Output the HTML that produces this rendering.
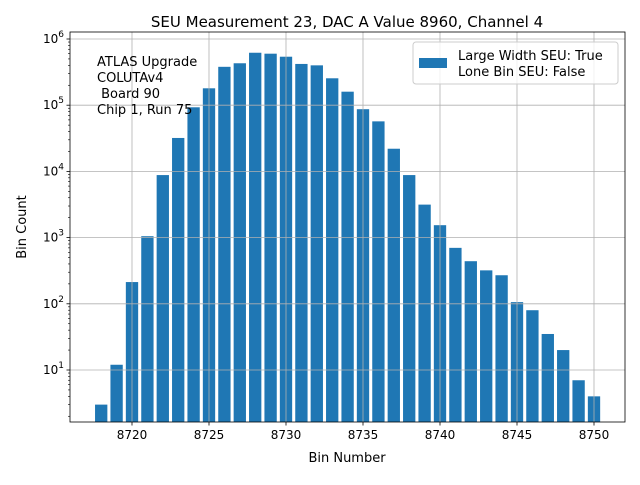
<!DOCTYPE html>
<html><head><meta charset="utf-8"><style>
body{margin:0;background:#fff;font-family:"Liberation Sans","DejaVu Sans",sans-serif}
svg text{font-family:"DejaVu Sans","Liberation Sans",sans-serif}
</style></head><body>
<svg id="c" width="640" height="480" viewBox="0 0 640 480"></svg>
<script>
const bins=[8718,8719,8720,8721,8722,8723,8724,8725,8726,8727,8728,8729,8730,8731,8732,8733,8734,8735,8736,8737,8738,8739,8740,8741,8742,8743,8744,8745,8746,8747,8748,8749,8750];
const counts=[3,12,213,1050,8800,32000,93000,180000,380000,430000,620000,600000,540000,420000,400000,255000,160000,87000,57000,22000,8800,3150,1540,700,440,320,270,106,80,35,20,7,4];
const xTicks=[8720,8725,8730,8735,8740,8745,8750];
const yTicks=[1,2,3,4,5,6];
const L=70,R=625,T=32,B=422;
const xs=v=>132+(v-8720)*15.4;
const ys=v=>370-(Math.log10(v)-1)*66.2;
const svg=document.getElementById('c');
const NS='http://www.w3.org/2000/svg';
function mk(t,a,p){const e=document.createElementNS(NS,t);for(const k in a)e.setAttribute(k,a[k]);(p||svg).appendChild(e);return e;}
let e=mk('text',{x:347,y:27,'text-anchor':'middle','font-size':15});e.textContent='SEU Measurement 23, DAC A Value 8960, Channel 4';


// bars
bins.forEach((b,i)=>{const y=ys(counts[i]);const r=mk('rect',{x:xs(b-0.4),y:y,width:15.4*0.8,height:B-y,fill:'#1f77b4'});

});
// grid + ticks (drawn over bars)
xTicks.forEach(t=>{const x=xs(t);mk('line',{x1:x,x2:x,y1:T,y2:B,stroke:'#b0b0b0','stroke-width':0.8});
mk('line',{x1:x,x2:x,y1:B,y2:B+3.5,stroke:'#000','stroke-width':0.8});
const tx=mk('text',{x:x,y:B+17,'text-anchor':'middle','font-size':12});tx.textContent=t;

});
yTicks.forEach(p=>{const y=ys(Math.pow(10,p));mk('line',{x1:L,x2:R,y1:y,y2:y,stroke:'#b0b0b0','stroke-width':0.8});
mk('line',{x1:L-3.5,x2:L,y1:y,y2:y,stroke:'#000','stroke-width':0.8});
const tx=mk('text',{x:L-6,y:y+4,'text-anchor':'end','font-size':12});tx.innerHTML='10<tspan dy="-6" font-size="9">'+p+'</tspan>';


for(let m=2;m<10;m++){const v=Math.pow(10,p-1)*m;const yy=ys(v);if(yy<B&&yy>T)mk('line',{x1:L-2,x2:L,y1:yy,y2:yy,stroke:'#000','stroke-width':0.6});}});
for(let m=2;m<10;m++){const yy=ys(Math.pow(10,6)*m);if(yy>T)mk('line',{x1:L-2,x2:L,y1:yy,y2:yy,stroke:'#000','stroke-width':0.6});}
const fr=mk('rect',{x:L,y:T,width:R-L,height:B-T,fill:'none',stroke:'#000','stroke-width':0.8});


e=mk('text',{x:347,y:462,'text-anchor':'middle','font-size':13});e.textContent='Bin Number';


e=mk('text',{x:26,y:227,'text-anchor':'middle','font-size':13,transform:'rotate(-90 26 227)'});e.textContent='Bin Count';


['ATLAS Upgrade','COLUTAv4',' Board 90','Chip 1, Run 75'].forEach((s,i)=>{const t=mk('text',{x:97,y:66+i*16,'font-size':13,style:'white-space:pre'});t.textContent=s;

});
const g=mk('g',{});


mk('rect',{x:413,y:42,width:205,height:42,fill:'#fff','fill-opacity':0.8,stroke:'#ccc',rx:3},g);
mk('rect',{x:419,y:58,width:28,height:10,fill:'#1f77b4'},g);
e=mk('text',{x:458,y:60,'font-size':13},g);e.textContent='Large Width SEU: True';
e=mk('text',{x:458,y:76,'font-size':13},g);e.textContent='Lone Bin SEU: False';
</script>
</body></html>
